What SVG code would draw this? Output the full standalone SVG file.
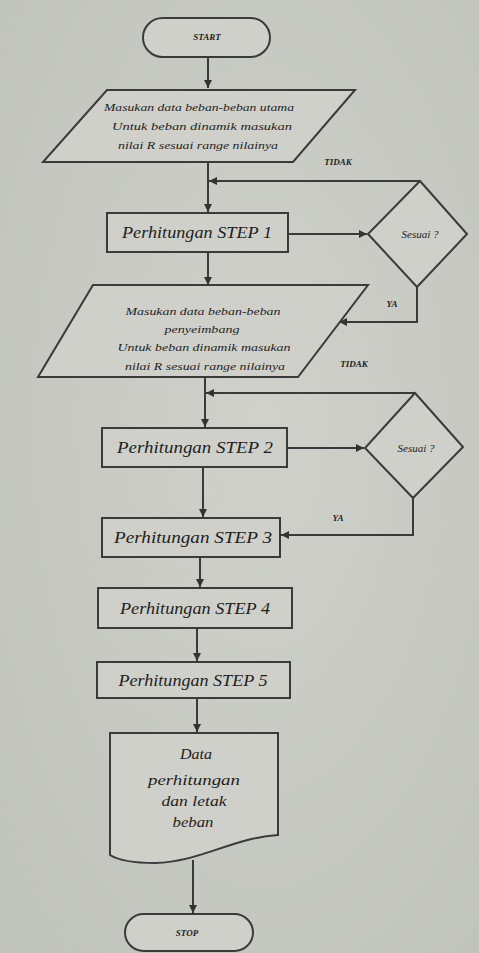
<svg xmlns="http://www.w3.org/2000/svg" width="479" height="953" viewBox="0 0 479 953">
<defs>
<marker id="ah" viewBox="0 0 10 10" refX="10" refY="5" markerWidth="8" markerHeight="8" markerUnits="userSpaceOnUse" orient="auto">
<path d="M0,0 L10,5 L0,10 Z" fill="#333"/>
</marker>
<radialGradient id="bg" cx="0.55" cy="0.45" r="0.8">
<stop offset="0" stop-color="#d0d1cb"/>
<stop offset="1" stop-color="#bfc1bb"/>
</radialGradient>
</defs>
<style>
.s{fill:#cfd0ca;stroke:#3a3a3a;stroke-width:2}
.c{fill:none;stroke:#3a3a3a;stroke-width:2}
.t{font-family:"Liberation Serif",serif;font-style:italic;fill:#1e1e1e;text-anchor:middle}
.st{font-size:16px}
.sm{font-size:11px}
.lb{font-size:9px;font-weight:bold}
.dc{font-size:14px}
</style>
<rect width="479" height="953" fill="url(#bg)"/>

<g id="connectors">
<path class="c" d="M208,57 V88" marker-end="url(#ah)"/>
<path class="c" d="M208,162 V212" marker-end="url(#ah)"/>
<path class="c" d="M420,181 H209" marker-end="url(#ah)"/>
<path class="c" d="M288,234 H367" marker-end="url(#ah)"/>
<path class="c" d="M208,252 V285" marker-end="url(#ah)"/>
<path class="c" d="M417,287 V322 H339" marker-end="url(#ah)"/>
<path class="c" d="M205,377 V427" marker-end="url(#ah)"/>
<path class="c" d="M415,393 H206" marker-end="url(#ah)"/>
<path class="c" d="M287,448 H364" marker-end="url(#ah)"/>
<path class="c" d="M203,467 V517" marker-end="url(#ah)"/>
<path class="c" d="M413,498 V535 H281" marker-end="url(#ah)"/>
<path class="c" d="M200,557 V587" marker-end="url(#ah)"/>
<path class="c" d="M197,628 V661" marker-end="url(#ah)"/>
<path class="c" d="M197,698 V732" marker-end="url(#ah)"/>
<path class="c" d="M193,860 V913" marker-end="url(#ah)"/>
<text class="t lb" x="338" y="165">TIDAK</text>
<text class="t lb" x="392" y="307">YA</text>
<text class="t lb" x="354" y="367">TIDAK</text>
<text class="t lb" x="338" y="521">YA</text>
</g>

<g id="start">
<rect class="s" x="143" y="18" width="127" height="39" rx="19.5"/>
<text class="t lb" x="207" y="40">START</text>
</g>

<g id="input1">
<path class="s" d="M107,90 H355 L293,162 H43 Z"/>
<text class="t sm" x="199" y="111" textLength="190" lengthAdjust="spacingAndGlyphs">Masukan data beban-beban utama</text>
<text class="t sm" x="202" y="130" textLength="180" lengthAdjust="spacingAndGlyphs">Untuk beban dinamik masukan</text>
<text class="t sm" x="198" y="149" textLength="160" lengthAdjust="spacingAndGlyphs">nilai R sesuai range nilainya</text>
</g>

<g id="step1">
<rect class="s" x="107" y="213" width="181" height="39"/>
<text class="t st" x="197" y="238" textLength="150" lengthAdjust="spacingAndGlyphs">Perhitungan  STEP 1</text>
</g>

<g id="decision1">
<path class="s" d="M420,181 L467,234 L417,287 L368,234 Z"/>
<text class="t sm" x="420" y="238">Sesuai ?</text>
</g>

<g id="input2">
<path class="s" d="M93,285 H368 L298,377 H38 Z"/>
<text class="t sm" x="203" y="315" textLength="155" lengthAdjust="spacingAndGlyphs">Masukan data beban-beban</text>
<text class="t sm" x="202" y="333" textLength="75" lengthAdjust="spacingAndGlyphs">penyeimbang</text>
<text class="t sm" x="204" y="351" textLength="173" lengthAdjust="spacingAndGlyphs">Untuk beban dinamik masukan</text>
<text class="t sm" x="205" y="370" textLength="160" lengthAdjust="spacingAndGlyphs">nilai R sesuai range nilainya</text>
</g>

<g id="step2">
<rect class="s" x="102" y="428" width="185" height="39"/>
<text class="t st" x="195" y="453" textLength="156" lengthAdjust="spacingAndGlyphs">Perhitungan  STEP 2</text>
</g>

<g id="decision2">
<path class="s" d="M415,393 L463,447 L413,498 L365,448 Z"/>
<text class="t sm" x="416" y="452">Sesuai ?</text>
</g>

<g id="step3">
<rect class="s" x="102" y="518" width="178" height="39"/>
<text class="t st" x="193" y="543" textLength="158" lengthAdjust="spacingAndGlyphs">Perhitungan  STEP 3</text>
</g>

<g id="step4">
<rect class="s" x="98" y="588" width="194" height="40"/>
<text class="t st" x="195" y="614" textLength="150" lengthAdjust="spacingAndGlyphs">Perhitungan  STEP 4</text>
</g>

<g id="step5">
<rect class="s" x="97" y="662" width="193" height="36"/>
<text class="t st" x="193" y="686" textLength="149" lengthAdjust="spacingAndGlyphs">Perhitungan  STEP 5</text>
</g>

<g id="output">
<path class="s" d="M110,733 H278 V835 C232,838 200,862 155,863 C132,863 118,860 110,855 Z"/>
<text class="t dc" x="196" y="759" textLength="32" lengthAdjust="spacingAndGlyphs">Data</text>
<text class="t dc" x="194" y="785" textLength="92" lengthAdjust="spacingAndGlyphs">perhitungan</text>
<text class="t dc" x="194" y="806" textLength="65" lengthAdjust="spacingAndGlyphs">dan letak</text>
<text class="t dc" x="193" y="827" textLength="41" lengthAdjust="spacingAndGlyphs">beban</text>
</g>

<g id="stop">
<rect class="s" x="125" y="914" width="128" height="37" rx="18.5"/>
<text class="t lb" x="187" y="936">STOP</text>
</g>
</svg>
